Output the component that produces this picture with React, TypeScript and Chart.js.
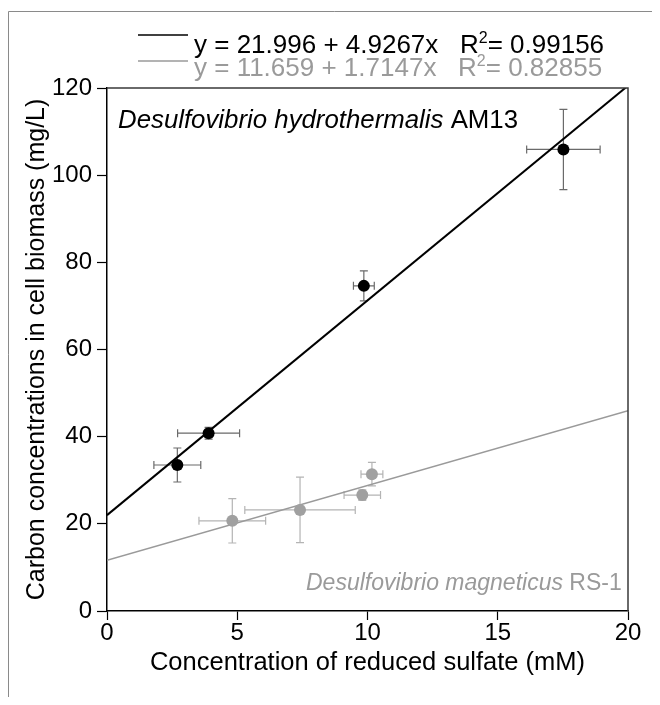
import React, { useEffect, useRef } from 'react';
import { Chart, registerables } from 'chart.js';

Chart.register(...registerables);

// ---- data ----
const seriesNames = ['Desulfovibrio hydrothermalis', 'Desulfovibrio magneticus'];
const strainNames = ['AM13', 'RS-1'];

const amX = [2.7, 3.9, 9.86, 17.52];
const amY = [33.5, 40.8, 74.6, 105.9];
const amXErr = [0.9, 1.19, 0.4, 1.41];
const amYErr = [3.9, 1.35, 3.45, 9.2];

const rsX = [4.81, 7.41, 9.8, 10.17];
const rsY = [20.7, 23.2, 26.6, 31.4];
const rsXErr = [1.28, 2.12, 0.7, 0.42];
const rsYErr = [5.1, 7.5, 1.2, 2.7];

const intercepts = ['21.996', '11.659'];
const slopes = ['4.9267', '1.7147'];
const rSquared = ['0.99156', '0.82855'];

const xTicks = [0, 5, 10, 15, 20];
const yTicks = [0, 20, 40, 60, 80, 100, 120];

const xTitle = 'Concentration of reduced sulfate (mM)';
const yTitle = 'Carbon concentrations in cell biomass (mg/L)';

// ---- style ----
const FONT = '"Liberation Sans", Arial, Helvetica, sans-serif';
const BLACK = '#000000';
const GRAY = '#9a9a9a';
const W = 652;
const H = 689;

const fitLine = (i: number) => {
  const b = parseFloat(intercepts[i]);
  const m = parseFloat(slopes[i]);
  const x0 = xTicks[0];
  const x1 = xTicks[xTicks.length - 1];
  return [
    { x: x0, y: b + m * x0 },
    { x: x1, y: b + m * x1 },
  ];
};

const errSets = [
  { xs: amX, ys: amY, xe: amXErr, ye: amYErr, color: '#6a6a6a' },
  { xs: rsX, ys: rsY, xe: rsXErr, ye: rsYErr, color: '#b4b4b4' },
];

const framePlugin = {
  id: 'frame',
  beforeDraw(chart: any) {
    const ctx = chart.ctx;
    ctx.save();
    ctx.strokeStyle = '#8a8a8a';
    ctx.lineWidth = 1;
    ctx.beginPath();
    ctx.moveTo(0.5, chart.height);
    ctx.lineTo(0.5, 3.5);
    ctx.lineTo(chart.width, 3.5);
    ctx.stroke();
    ctx.restore();
  },
};

const errorBarPlugin = {
  id: 'errorBars',
  beforeDatasetsDraw(chart: any) {
    const ctx = chart.ctx;
    const xs = chart.scales.x;
    const ys = chart.scales.y;
    const cap = 4;
    ctx.save();
    ctx.lineWidth = 1.2;
    errSets.forEach((s) => {
      ctx.strokeStyle = s.color;
      s.xs.forEach((xv, k) => {
        const px = xs.getPixelForValue(xv);
        const py = ys.getPixelForValue(s.ys[k]);
        const xl = xs.getPixelForValue(xv - s.xe[k]);
        const xr = xs.getPixelForValue(xv + s.xe[k]);
        const yt = ys.getPixelForValue(s.ys[k] + s.ye[k]);
        const yb = ys.getPixelForValue(s.ys[k] - s.ye[k]);
        ctx.beginPath();
        ctx.moveTo(xl, py); ctx.lineTo(xr, py);
        ctx.moveTo(xl, py - cap); ctx.lineTo(xl, py + cap);
        ctx.moveTo(xr, py - cap); ctx.lineTo(xr, py + cap);
        ctx.moveTo(px, yt); ctx.lineTo(px, yb);
        ctx.moveTo(px - cap, yt); ctx.lineTo(px + cap, yt);
        ctx.moveTo(px - cap, yb); ctx.lineTo(px + cap, yb);
        ctx.stroke();
      });
    });
    ctx.restore();
  },
};

const boxPlugin = {
  id: 'box',
  afterDatasetsDraw(chart: any) {
    const { ctx, chartArea } = chart;
    ctx.save();
    ctx.strokeStyle = '#3a3a3a';
    ctx.lineWidth = 1.5;
    ctx.beginPath();
    ctx.moveTo(chartArea.left, chartArea.top);
    ctx.lineTo(chartArea.right, chartArea.top);
    ctx.lineTo(chartArea.right, chartArea.bottom);
    ctx.stroke();
    ctx.restore();
  },
};

const textPlugin = {
  id: 'texts',
  afterDraw(chart: any) {
    const { ctx, chartArea } = chart;
    ctx.save();
    ctx.textAlign = 'left';
    ctx.textBaseline = 'alphabetic';
    // legend rows
    const rows = [
      { color: BLACK, lineY: 27, baseY: 45 },
      { color: GRAY, lineY: 53, baseY: 68 },
    ];
    rows.forEach((r, i) => {
      ctx.strokeStyle = r.color;
      ctx.lineWidth = 1.5;
      ctx.beginPath();
      ctx.moveTo(130, r.lineY);
      ctx.lineTo(180, r.lineY);
      ctx.stroke();
      ctx.fillStyle = r.color;
      let x = 186;
      ctx.font = `26px ${FONT}`;
      const s1 = `y = ${intercepts[i]} + ${slopes[i]}x   R`;
      ctx.fillText(s1, x, r.baseY);
      x += ctx.measureText(s1).width;
      ctx.font = `16px ${FONT}`;
      ctx.fillText('2', x, r.baseY - 10);
      x += ctx.measureText('2').width;
      ctx.font = `26px ${FONT}`;
      ctx.fillText(`= ${rSquared[i]}`, x, r.baseY);
    });
    // in-plot species labels
    const drawLabel = (i: number, x: number, y: number, color: string, size: number) => {
      ctx.fillStyle = color;
      ctx.font = `italic ${size}px ${FONT}`;
      const a = seriesNames[i] + ' ';
      ctx.fillText(a, x, y);
      const w = ctx.measureText(a).width;
      ctx.font = `${size}px ${FONT}`;
      ctx.fillText(strainNames[i], x + w, y);
    };
    drawLabel(0, chartArea.left + 11, chartArea.top + 40, BLACK, 25.8);
    drawLabel(1, chartArea.left + 199, chartArea.bottom - 21, GRAY, 23);
    ctx.restore();
  },
};

export default function App() {
  const ref = useRef<HTMLCanvasElement | null>(null);
  useEffect(() => {
    if (!ref.current) return;
    const chart = new Chart(ref.current, {
      type: 'scatter',
      data: {
        datasets: [
          {
            label: seriesNames[0],
            data: amX.map((x, i) => ({ x, y: amY[i] })),
            backgroundColor: BLACK,
            borderWidth: 0,
            pointRadius: 6,
            order: 1,
          },
          {
            label: seriesNames[1],
            data: rsX.map((x, i) => ({ x, y: rsY[i] })),
            backgroundColor: '#a0a0a0',
            borderWidth: 0,
            pointRadius: 6,
            order: 1,
          },
          {
            type: 'line',
            label: 'fit0',
            data: fitLine(0),
            borderColor: BLACK,
            borderWidth: 2,
            pointRadius: 0,
            showLine: true,
            order: 2,
          } as any,
          {
            type: 'line',
            label: 'fit1',
            data: fitLine(1),
            borderColor: GRAY,
            borderWidth: 1.5,
            pointRadius: 0,
            showLine: true,
            order: 2,
          } as any,
        ],
      },
      options: {
        responsive: false,
        animation: false,
        devicePixelRatio: 1,
        layout: { padding: { left: 0, right: 32, top: 80, bottom: 0 } },
        plugins: {
          legend: { display: false },
          tooltip: { enabled: false },
        },
        scales: {
          x: {
            type: 'linear',
            min: xTicks[0],
            max: xTicks[xTicks.length - 1],
            afterBuildTicks: (s: any) => { s.ticks = xTicks.map((v) => ({ value: v })); },
            afterFit: (s: any) => { s.height = H - 603; },
            ticks: { color: BLACK, font: { family: FONT, size: 24, lineHeight: 1 }, padding: 1, maxRotation: 0 },
            grid: { drawOnChartArea: false, drawTicks: true, tickLength: 9, color: BLACK, tickWidth: 1.2 },
            border: { display: true, color: BLACK, width: 1.5 },
            title: { display: true, text: xTitle, color: BLACK, font: { family: FONT, size: 25.5 }, padding: { top: 0, bottom: 19 } },
          },
          y: {
            type: 'linear',
            min: yTicks[0],
            max: yTicks[yTicks.length - 1],
            afterBuildTicks: (s: any) => { s.ticks = yTicks.map((v) => ({ value: v })); },
            afterFit: (s: any) => { s.width = 99; },
            ticks: { color: BLACK, font: { family: FONT, size: 24 }, padding: 5 },
            grid: { drawOnChartArea: false, drawTicks: true, tickLength: 10, color: BLACK, tickWidth: 1.2 },
            border: { display: true, color: BLACK, width: 1.5 },
            title: { display: true, text: yTitle, color: BLACK, font: { family: FONT, size: 25 }, padding: { top: 14, bottom: 0 } },
          },
        },
      } as any,
      plugins: [framePlugin, errorBarPlugin, boxPlugin, textPlugin],
    });
    return () => chart.destroy();
  }, []);
  return <canvas ref={ref} width={W} height={H} style={{ display: 'block' }} />;
}
